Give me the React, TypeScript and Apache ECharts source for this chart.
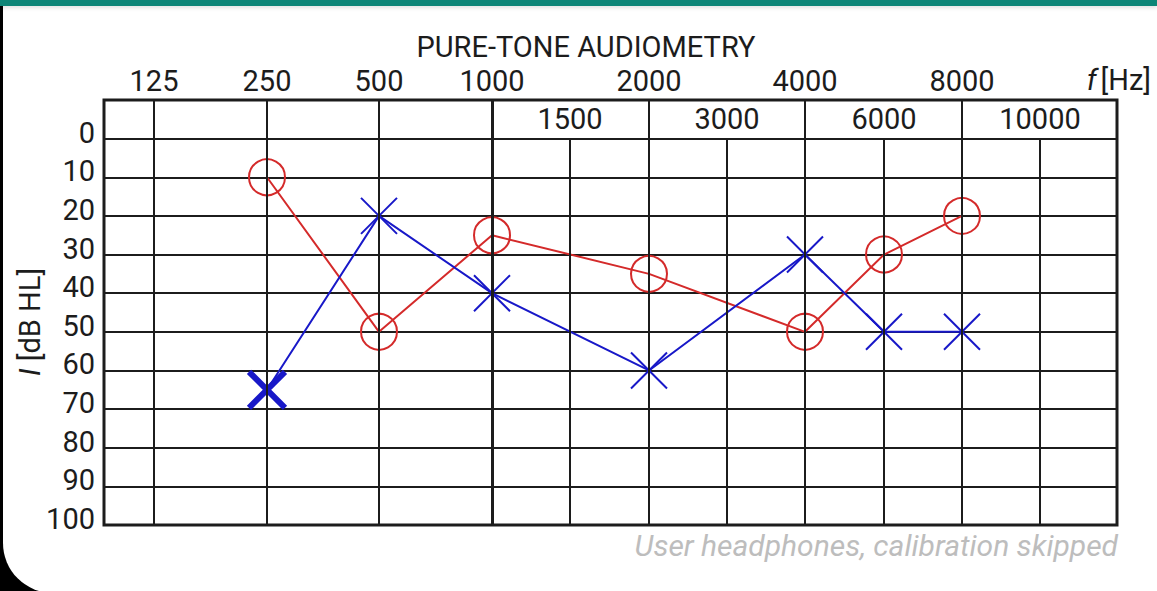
import React, { useEffect, useRef } from "react";
import * as echarts from "echarts";

// ---- data ----
const TOP_FREQS = [125, 250, 500, 1000, 2000, 4000, 8000];
const MID_FREQS = [1500, 3000, 6000, 10000];
// position of each frequency along the horizontal audiogram scale (axis units)
const FREQ_POS: Record<number, number> = {
  125: 50, 250: 163, 500: 275, 1000: 388, 1500: 466, 2000: 545,
  3000: 623, 4000: 701, 6000: 780, 8000: 858, 10000: 936,
};
const X_MAX = 1013;
const TEST_FREQS = [250, 500, 1000, 2000, 4000, 6000, 8000];
const RIGHT_EAR_DB = [10, 50, 25, 35, 50, 30, 20];
const LEFT_EAR_DB = [65, 20, 40, 60, 30, 50, 50];
const Y_TICKS = [0, 10, 20, 30, 40, 50, 60, 70, 80, 90, 100];

const RED = "#d42a2a";
const BLUE = "#1818c8";
const INK = "#1c1c1c";
const FONT = "Roboto";
const FS = 29;

export default function App() {
  const ref = useRef<HTMLDivElement>(null);
  useEffect(() => {
    if (!ref.current) return;
    const chart = echarts.init(ref.current, undefined, { renderer: "svg" });

    const posToLabel: Record<number, string> = {};
    Object.keys(FREQ_POS).forEach((k) => (posToLabel[FREQ_POS[+k]] = k));

    const vLines: any[] = [];
    TOP_FREQS.forEach((f) =>
      vLines.push([
        { coord: [FREQ_POS[f], -10], lineStyle: { width: f === 1000 ? 3 : 2, color: INK, type: "solid" } },
        { coord: [FREQ_POS[f], 100] },
      ])
    );
    MID_FREQS.forEach((f) =>
      vLines.push([
        { coord: [FREQ_POS[f], 0], lineStyle: { width: 2, color: INK, type: "solid" } },
        { coord: [FREQ_POS[f], 100] },
      ])
    );

    const xSymbol = "path://M0,0L20,20M20,0L0,20";

    chart.setOption({
      animation: false,
      backgroundColor: "transparent",
      title: {
        text: "PURE-TONE AUDIOMETRY",
        left: 581,
        textAlign: "center",
        top: 27,
        textStyle: { fontFamily: FONT, fontSize: FS, fontWeight: "normal", color: INK },
      },
      grid: {
        left: 104,
        top: 100,
        width: 1013,
        height: 425,
        show: true,
        borderColor: INK,
        borderWidth: 3,
        backgroundColor: "transparent",
      },
      xAxis: [
        {
          type: "value",
          position: "top",
          min: 0,
          max: X_MAX,
          axisLine: { show: false },
          axisTick: { show: false },
          splitLine: { show: false },
          axisLabel: {
            customValues: TOP_FREQS.map((f) => FREQ_POS[f]),
            formatter: (v: number) => posToLabel[v] ?? "",
            fontFamily: FONT,
            fontSize: FS,
            color: INK,
            margin: 5,
          },
        },
        {
          type: "value",
          position: "top",
          min: 0,
          max: X_MAX,
          axisLine: { show: false },
          axisTick: { show: false },
          splitLine: { show: false },
          axisLabel: {
            inside: true,
            customValues: MID_FREQS.map((f) => FREQ_POS[f]),
            formatter: (v: number) => posToLabel[v] ?? "",
            fontFamily: FONT,
            fontSize: FS,
            color: INK,
            margin: 4,
          },
        },
      ],
      yAxis: {
        type: "value",
        inverse: true,
        min: -10,
        max: 100,
        interval: 10,
        axisLine: { show: false },
        axisTick: { show: false },
        splitLine: { show: true, lineStyle: { color: INK, width: 2 } },
        axisLabel: {
          formatter: (v: number) => (Y_TICKS.includes(v) ? String(v) : ""),
          fontFamily: FONT,
          fontSize: FS,
          color: INK,
          margin: 9,
          verticalAlign: "bottom",
          lineHeight: 12,
        },
      },
      graphic: [
        {
          type: "text",
          x: 30,
          y: 322,
          rotation: Math.PI / 2,
          style: {
            text: "{i|I} [dB HL]",
            align: "center",
            verticalAlign: "middle",
            fontFamily: FONT,
            fontSize: FS,
            fill: INK,
            rich: { i: { fontStyle: "italic", fontFamily: FONT, fontSize: FS, fill: INK } },
          },
        },
        {
          type: "text",
          x: 1151,
          y: 80,
          style: {
            text: "{i|f}[Hz]",
            align: "right",
            verticalAlign: "middle",
            fontFamily: FONT,
            fontSize: FS,
            fill: INK,
            rich: { i: { fontStyle: "italic", fontFamily: FONT, fontSize: FS, fill: INK, padding: [0, 4, 0, 0] } },
          },
        },
        {
          type: "text",
          x: 1118,
          y: 545,
          style: {
            text: "User headphones, calibration skipped",
            align: "right",
            verticalAlign: "middle",
            fontFamily: FONT,
            fontSize: 30,
            fontStyle: "italic",
            fill: "#bdbdbd",
          },
        },
      ],
      series: [
        {
          type: "line",
          data: [],
          silent: true,
          z: 1,
          markLine: {
            silent: true,
            symbol: ["none", "none"],
            label: { show: false },
            animation: false,
            data: vLines,
          },
        },
        {
          type: "line",
          z: 3,
          data: TEST_FREQS.map((f, i) => [FREQ_POS[f], RIGHT_EAR_DB[i]]),
          symbol: "circle",
          symbolSize: 36,
          lineStyle: { color: RED, width: 2 },
          itemStyle: { color: "rgba(0,0,0,0)", borderColor: RED, borderWidth: 2 },
        },
        {
          type: "line",
          z: 4,
          data: TEST_FREQS.map((f, i) => ({
            value: [FREQ_POS[f], LEFT_EAR_DB[i]],
            itemStyle: i === 0 ? { borderWidth: 6 } : undefined,
          })),
          symbol: xSymbol,
          symbolSize: 36,
          lineStyle: { color: BLUE, width: 2 },
          itemStyle: { color: "rgba(0,0,0,0)", borderColor: BLUE, borderWidth: 2 },
        },
      ],
    });
    return () => chart.dispose();
  }, []);

  return (
    <div style={{ position: "fixed", left: 0, top: 0, width: 1157, height: 591, background: "#000", overflow: "hidden" }}>
      <div
        style={{
          position: "absolute",
          left: 3,
          top: 0,
          right: 0,
          bottom: -2,
          background: "#fff",
          borderBottomLeftRadius: 50,
        }}
      />
      <div
        style={{
          position: "absolute",
          left: 0,
          top: 0,
          width: 1157,
          height: 6,
          background: "#0d8577",
          boxShadow: "0 2px 4px rgba(0,0,0,0.12)",
        }}
      />
      <div ref={ref} style={{ position: "absolute", left: 0, top: 0, width: 1157, height: 591 }} />
    </div>
  );
}
